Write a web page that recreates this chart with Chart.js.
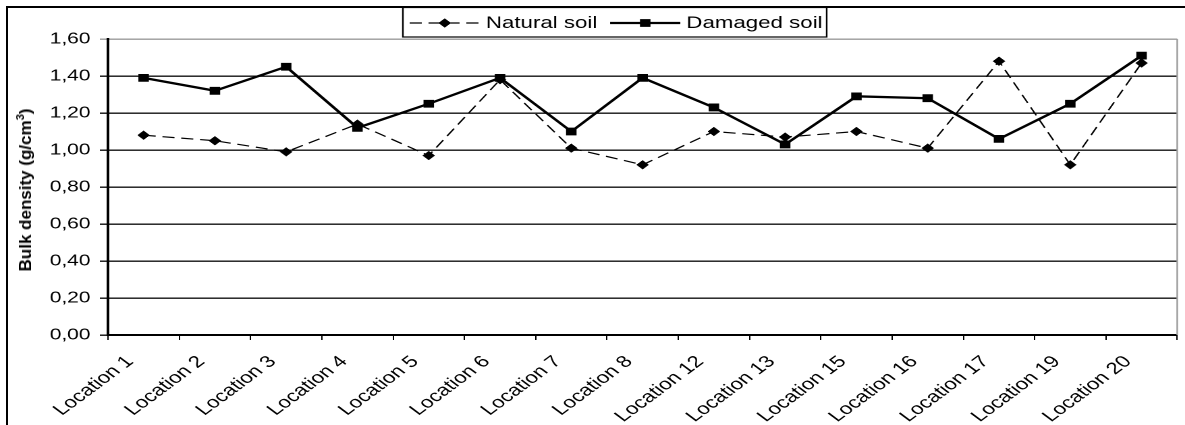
<!DOCTYPE html>
<html><head><meta charset="utf-8">
<script src="https://cdn.jsdelivr.net/npm/chart.js@4"></script>
<style>
html,body{margin:0;padding:0;background:#fff;overflow:hidden;width:1185px;height:425px;position:relative;}
#frame{position:absolute;left:6px;top:6px;width:1300px;height:600px;border:2px solid #000;box-sizing:border-box;}
#wrap{position:absolute;left:0;top:0;width:878px;height:425px;transform:scaleX(1.3497);transform-origin:0 0;}
#ytitle{position:absolute;left:26px;top:190px;transform:translate(-50%,-50%) rotate(-90deg);font:bold 17px "Liberation Sans",Arial,sans-serif;white-space:nowrap;color:#000;}
#ytitle span{font-size:11px;position:relative;top:-7px;}
</style></head><body>
<div id="frame"></div>
<div id="wrap"><canvas id="c" width="878" height="425"></canvas></div>
<div id="ytitle">Bulk density (g/cm<span>3</span>)</div>
<script>
const categories = ['Location 1','Location 2','Location 3','Location 4','Location 5','Location 6','Location 7','Location 8','Location 12','Location 13','Location 15','Location 16','Location 17','Location 19','Location 20'];
const naturalSoil = [1.08,1.05,0.99,1.14,0.97,1.38,1.01,0.92,1.10,1.07,1.10,1.01,1.48,0.92,1.47];
const damagedSoil = [1.39,1.32,1.45,1.12,1.25,1.39,1.10,1.39,1.23,1.03,1.29,1.28,1.06,1.25,1.51];
const yTickLabels = ['0,00','0,20','0,40','0,60','0,80','1,00','1,20','1,40','1,60'];
const seriesNames = ['Natural soil','Damaged soil'];

const FONT = '"Liberation Sans", Arial, sans-serif';

function marker(ctx, style, x, y, r){
  ctx.beginPath();
  if(style==='rectRot'){
    ctx.moveTo(x-r,y);ctx.lineTo(x,y-r);ctx.lineTo(x+r,y);ctx.lineTo(x,y+r);ctx.closePath();
  } else {
    const s=r*Math.SQRT1_2;
    ctx.rect(x-s,y-s,2*s,2*s);
  }
  ctx.fill();ctx.stroke();
}

const legendPlugin = {
  id:'boxLegend',
  afterDraw(chart){
    const ctx=chart.ctx;
    const left=298.5, top=7.5, right=612.5, bottom=37;
    ctx.save();
    ctx.fillStyle='#fff';
    ctx.fillRect(left,top,right-left,bottom-top);
    ctx.strokeStyle='#000';ctx.lineWidth=1.2;
    ctx.strokeRect(left,top,right-left,bottom-top);
    ctx.font='16.5px '+FONT;
    ctx.textBaseline='middle';ctx.textAlign='left';
    const y=23;
    let x=left+5;
    chart.data.datasets.forEach(ds=>{
      ctx.strokeStyle=ds.borderColor;ctx.lineWidth=ds.borderWidth;
      ctx.setLineDash(ds.borderDash||[]);
      ctx.beginPath();ctx.moveTo(x,y);ctx.lineTo(x+52,y);ctx.stroke();
      ctx.setLineDash([]);
      ctx.fillStyle=ds.pointBackgroundColor;ctx.strokeStyle=ds.pointBorderColor;ctx.lineWidth=ds.pointBorderWidth;
      marker(ctx, ds.pointStyle, x+26, y, ds.pointRadius);
      ctx.fillStyle='#000';
      ctx.fillText(ds.label, x+56.5, y+0.5);
      x += 56.5 + ctx.measureText(ds.label).width + 9.5;
    });
    ctx.restore();
  }
};

const plotBorder = {
  id:'plotBorder',
  beforeDatasetsDraw(chart){
    const a=chart.chartArea, ctx=chart.ctx;
    ctx.save();ctx.strokeStyle='#9a9a9a';ctx.lineWidth=1.2;
    ctx.beginPath();ctx.moveTo(a.right,a.top);ctx.lineTo(a.right,a.bottom);ctx.stroke();
    ctx.restore();
  }
};

new Chart(document.getElementById('c'),{
  type:'line',
  data:{
    labels:categories,
    datasets:[
      {label:seriesNames[0],data:naturalSoil,borderColor:'#000',borderWidth:1.2,borderDash:[9,5],
       pointStyle:'rectRot',pointRadius:4.4,pointBackgroundColor:'#000',pointBorderColor:'#000',pointBorderWidth:0.5,tension:0,fill:false},
      {label:seriesNames[1],data:damagedSoil,borderColor:'#000',borderWidth:2.3,
       pointStyle:'rect',pointRadius:4.8,pointBackgroundColor:'#000',pointBorderColor:'#000',pointBorderWidth:1,tension:0,fill:false}
    ]
  },
  options:{
    responsive:false,animation:false,devicePixelRatio:2,
    layout:{padding:{left:0,right:5.5,top:39,bottom:0}},
    plugins:{legend:{display:false},tooltip:{enabled:false}},
    scales:{
      x:{
        offset:true,
        afterFit(s){s.height=90;},
        grid:{display:true,drawOnChartArea:false,drawTicks:true,tickLength:5,offset:true,color:'#000',lineWidth:1},
        border:{color:'#000',width:2},
        ticks:{autoSkip:false,maxRotation:45,minRotation:45,padding:12,labelOffset:-10,color:'#000',font:{family:FONT,size:16.5}}
      },
      y:{
        min:0,max:1.6,
        afterFit(s){s.width=80;},
        grid:{color:(c)=>(c.tick && c.tick.value>=1.59 ? '#9a9a9a' : '#111'),lineWidth:1.4,tickLength:6,drawTicks:true},
        border:{color:'#000',width:2},
        ticks:{stepSize:0.2,padding:7,color:'#000',font:{family:FONT,size:15.5},callback:(v,i)=>yTickLabels[i]}
      }
    }
  },
  plugins:[legendPlugin,plotBorder]
});
</script>
</body></html>
